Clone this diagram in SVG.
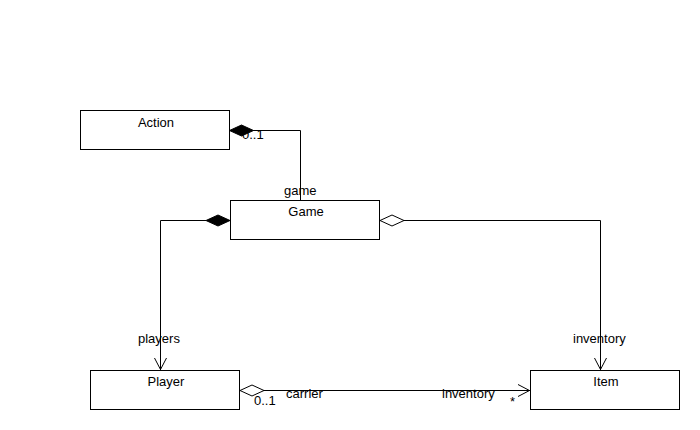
<svg xmlns="http://www.w3.org/2000/svg" width="700" height="430" viewBox="0 0 700 430">
<style>
.box{fill:#fff;stroke:#000;stroke-width:1}
.ln{fill:none;stroke:#000;stroke-width:1}
.fd{fill:#000;stroke:#000;stroke-width:1}
.od{fill:#fff;stroke:#000;stroke-width:1}
text{font-family:"Liberation Sans",Arial,sans-serif;font-size:13px;fill:#000}
.c{text-anchor:middle}
</style>
<rect width="700" height="430" fill="#fff"/>
<g id="connectors">
<polyline class="ln" points="253,130.5 300.5,130.5 300.5,200"/>
<polygon class="fd" points="229.5,130.5 241.5,125 253.5,130.5 241.5,136"/>
<polyline class="ln" points="206,220.5 160.5,220.5 160.5,370"/>
<polygon class="fd" points="230,220.5 218,215 206,220.5 218,226"/>
<polyline class="ln" points="154.5,358 160.5,369.5 166.5,358"/>
<polyline class="ln" points="404,220.5 600.5,220.5 600.5,370"/>
<polygon class="od" points="380,220.5 392,215 404,220.5 392,226"/>
<polyline class="ln" points="594.5,358 600.5,369.5 606.5,358"/>
<line class="ln" x1="264" y1="390.5" x2="530" y2="390.5"/>
<polygon class="od" points="240,390.5 252,385 264,390.5 252,396"/>
<polyline class="ln" points="518,384.5 529.5,390.5 518,396.5"/>
<text x="242" y="139">0..1</text>
<text x="284" y="195">game</text>
<text x="138" y="343">players</text>
<text x="573" y="343">inventory</text>
<text x="254" y="405">0..1</text>
<text x="286" y="398">carrier</text>
<text x="442" y="398">inventory</text>
<text x="510" y="406">*</text>
</g>
<g id="Action">
<rect class="box" x="80.5" y="110.5" width="149" height="39"/>
<text class="c" x="156" y="127">Action</text>
</g>
<g id="Game">
<rect class="box" x="230.5" y="200.5" width="149" height="39"/>
<text class="c" x="306" y="216">Game</text>
</g>
<g id="Player">
<rect class="box" x="90.5" y="370.5" width="149" height="39"/>
<text class="c" x="166" y="386">Player</text>
</g>
<g id="Item">
<rect class="box" x="530.5" y="370.5" width="149" height="39"/>
<text class="c" x="606" y="386">Item</text>
</g>
</svg>
